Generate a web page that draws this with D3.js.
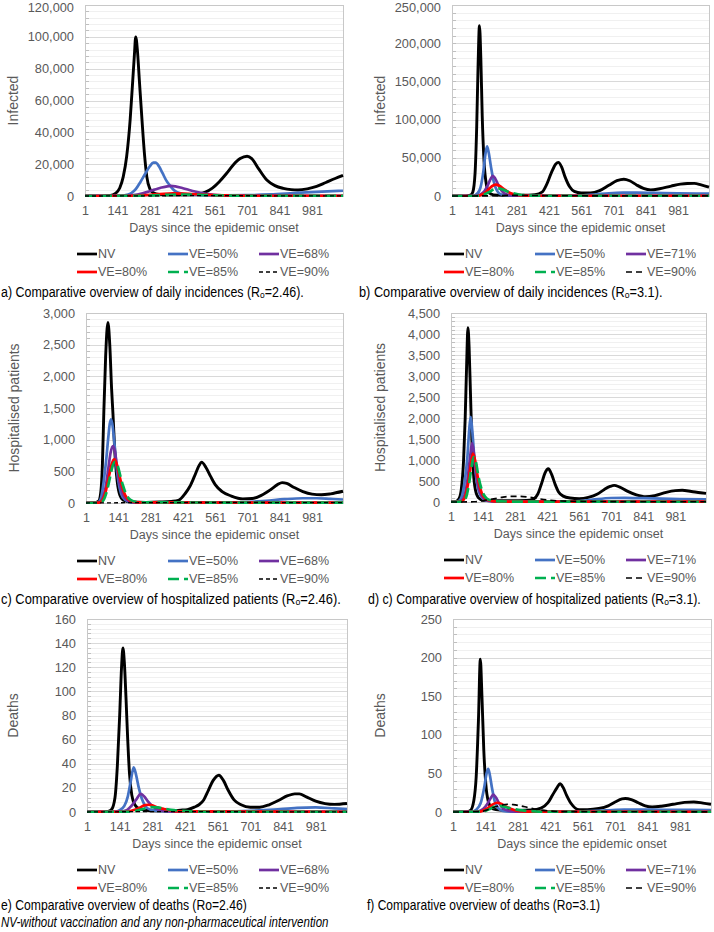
<!DOCTYPE html>
<html><head><meta charset="utf-8">
<script src="https://cdn.jsdelivr.net/npm/d3@7"></script>
<style>
body{margin:0;background:#fff}
svg{display:block}
text{font-family:"Liberation Sans",Arial,"DejaVu Sans",sans-serif}
</style>
</head><body><svg id="chart" width="714" height="932"></svg>
<script>
// ---------- shared labels ----------
const xTickDays = [1,141,281,421,561,701,841,981];
const namesR246 = ["NV","VE=50%","VE=68%","VE=80%","VE=85%","VE=90%"];
const namesR31  = ["NV","VE=50%","VE=71%","VE=80%","VE=85%","VE=90%"];
const seriesColors = ["#000000","#4472C4","#7030A0","#FF0000","#00B050","#000000"];

// ---------- a) Infected, Ro=2.46 ----------
const infA_NV = [[1,0],[81,0],[111,300],[131,1500],[151,5000],[166,12000],[181,25000],[196,48000],[206,70000],[214,88000],[220,100000],[227,92000],[236,72000],[247,48000],[258,26000],[268,12000],[281,4500],[296,2000],[321,1000],[361,800],[401,700],[451,800],[491,1300],[521,2500],[551,5000],[581,9000],[611,14000],[641,19500],[671,23500],[701,25000],[721,23500],[751,17000],[786,10000],[821,6500],[857,4800],[891,4000],[921,3800],[961,4500],[1001,6000],[1041,8500],[1081,11000],[1115,13000]];
const infA_50 = [[1,0],[141,0],[161,200],[181,700],[201,1800],[221,4500],[241,9000],[261,14000],[281,18700],[296,21000],[306,21000],[321,18500],[336,14300],[351,10000],[366,6900],[381,4200],[396,2600],[421,1400],[451,900],[501,600],[601,400],[701,500],[801,1000],[901,1800],[1001,2600],[1115,3300]];
const infA_68 = [[1,0],[181,100],[211,500],[241,1300],[271,2600],[301,4000],[331,5300],[356,6100],[371,6300],[391,6100],[421,5000],[451,3800],[481,2700],[511,1700],[541,1000],[571,500],[621,250],[701,150],[1115,100]];
const infA_80 = [[1,0],[201,100],[261,500],[301,1000],[341,1400],[381,1600],[421,1500],[461,1200],[501,900],[561,500],[641,200],[741,100],[1115,100]];
const infA_85 = [[1,0],[241,100],[301,400],[361,750],[411,900],[461,850],[521,600],[601,300],[701,150],[1115,100]];
const infA_90 = [[1,0],[301,100],[451,300],[601,200],[1115,100]];

// ---------- b) Infected, Ro=3.1 ----------
const infB_NV = [[1,0],[61,0],[81,1000],[91,5000],[101,30000],[108,90000],[114,170000],[120,223000],[126,180000],[132,105000],[140,45000],[150,15000],[162,4000],[181,1500],[221,1000],[281,1000],[331,1200],[361,1800],[391,5000],[411,15000],[431,30000],[451,42000],[462,44000],[476,38000],[491,25000],[511,12000],[531,6000],[561,4000],[601,4000],[641,7000],[681,14000],[716,20000],[746,22000],[771,20000],[801,14500],[831,10000],[862,8000],[901,9500],[951,13000],[991,15500],[1021,16400],[1051,16500],[1081,14500],[1115,11500]];
const infB_50 = [[1,0],[81,0],[101,1000],[121,8000],[136,30000],[146,55000],[153,65000],[160,57000],[170,38000],[181,20000],[196,7000],[211,2500],[231,1000],[281,500],[401,300],[501,400],[561,800],[621,2000],[681,3500],[741,4300],[801,4400],[881,4000],[981,3500],[1115,3200]];
const infB_71 = [[1,0],[101,0],[121,1500],[141,6000],[156,14000],[168,22000],[178,26500],[188,23000],[201,15000],[216,7000],[231,3000],[251,1000],[301,300],[1115,300]];
const infB_80 = [[1,0],[111,0],[131,2000],[151,6000],[171,12000],[189,15000],[206,13500],[226,9000],[246,5000],[266,2500],[291,1200],[321,500],[361,200],[1115,200]];
const infB_85 = [[1,0],[121,0],[141,2000],[161,5000],[181,8500],[196,10000],[216,9000],[241,6000],[266,3500],[291,2000],[321,900],[361,400],[421,200],[1115,100]];
const infB_90 = [[1,0],[151,200],[251,800],[351,700],[451,300],[1115,100]];

// ---------- c) Hospitalised, Ro=2.46 ----------
const hospC_NV = [[1,0],[41,5],[56,30],[66,200],[72,600],[78,1400],[86,2300],[96,2850],[104,2500],[112,1800],[118,1400],[126,800],[136,350],[148,120],[161,50],[201,15],[261,10],[321,15],[371,25],[401,40],[431,150],[451,260],[471,420],[491,590],[502,645],[521,560],[541,420],[561,290],[591,180],[631,110],[681,65],[721,70],[761,120],[801,210],[831,290],[851,322],[871,310],[901,250],[941,180],[981,140],[1021,130],[1061,145],[1115,185]];
const hospC_50 = [[1,0],[51,5],[66,80],[78,350],[88,660],[98,1050],[104,1250],[110,1320],[117,1200],[124,950],[131,660],[141,350],[153,150],[171,50],[201,10],[501,5],[601,8],[701,15],[781,35],[861,60],[941,75],[1001,75],[1061,65],[1115,55]];
const hospC_68 = [[1,0],[56,5],[71,60],[86,250],[98,550],[108,800],[118,900],[126,820],[136,560],[146,320],[161,130],[181,40],[211,10],[1115,5]];
const hospC_80 = [[1,0],[56,5],[71,40],[86,180],[101,430],[113,620],[123,690],[133,630],[143,480],[156,280],[171,120],[191,40],[221,10],[1115,5]];
const hospC_85 = [[1,0],[61,5],[76,40],[91,180],[106,420],[116,580],[127,650],[138,590],[149,440],[161,280],[176,130],[196,45],[231,10],[1115,5]];
const hospC_90 = [[1,0],[201,5],[601,8],[1115,5]];

// ---------- d) Hospitalised, Ro=3.1 ----------
const hospD_NV = [[1,0],[21,10],[36,80],[46,300],[56,1000],[63,2000],[69,3200],[75,4150],[80,3700],[86,2600],[92,1500],[99,700],[108,280],[121,100],[141,40],[201,30],[261,30],[331,35],[361,70],[381,200],[396,430],[411,680],[426,790],[441,650],[456,420],[471,240],[491,140],[521,95],[561,80],[601,110],[641,190],[671,300],[696,370],[714,395],[736,360],[771,260],[811,170],[851,125],[891,150],[941,230],[981,270],[1011,278],[1051,250],[1091,220],[1115,205]];
const hospD_50 = [[1,0],[31,10],[46,100],[61,500],[73,1100],[81,1750],[87,2030],[94,1700],[103,1050],[113,500],[126,200],[141,80],[161,25],[201,10],[501,10],[581,30],[641,70],[701,95],[761,100],[841,90],[921,80],[1001,70],[1115,65]];
const hospD_71 = [[1,0],[41,10],[56,100],[71,450],[83,1000],[93,1400],[101,1150],[111,650],[123,300],[141,100],[161,30],[201,10],[1115,10]];
const hospD_80 = [[1,0],[46,10],[61,100],[76,450],[88,900],[97,1150],[106,1000],[116,650],[128,330],[146,110],[171,30],[211,10],[1115,10]];
const hospD_85 = [[1,0],[51,10],[66,100],[81,480],[92,880],[100,1070],[110,950],[121,600],[136,280],[156,90],[181,30],[221,15],[281,10],[1115,5]];
const hospD_90 = [[1,0],[101,5],[141,30],[181,70],[221,110],[261,135],[301,135],[341,115],[381,80],[421,50],[481,25],[561,15],[701,10],[1115,5]];

// ---------- e) Deaths, Ro=2.46 ----------
const deathE_NV = [[1,0],[61,0],[91,0.5],[106,2],[121,12],[131,38],[141,80],[149,120],[155,136],[161,124],[168,95],[175,62],[183,32],[193,14],[206,6],[226,2.5],[251,1.5],[301,1],[361,1],[401,1.5],[431,2],[461,4],[481,6],[501,10],[521,18],[541,26],[566,30.5],[586,26],[606,18],[631,10],[661,6],[701,4],[741,4],[781,6],[821,9.5],[861,13.5],[891,15],[911,15],[941,12.5],[981,9],[1021,7],[1061,6.3],[1115,7]];
const deathE_50 = [[1,0],[121,0.3],[141,1.5],[161,5],[176,13],[188,25],[201,37],[211,31],[223,20],[236,11],[251,5],[271,2],[301,1],[401,0.5],[601,0.5],[701,1],[801,2],[901,3.5],[981,3.8],[1061,3],[1115,2.5]];
const deathE_68 = [[1,0],[141,0.2],[171,1.5],[191,5],[211,10],[231,15],[246,13],[261,9],[281,5],[301,2.5],[331,1],[371,0.5],[1115,0.3]];
const deathE_80 = [[1,0],[161,0.2],[191,1],[221,3],[246,5.5],[261,6],[281,5.5],[301,4],[331,2.5],[361,1.2],[401,0.5],[1115,0.2]];
const deathE_85 = [[1,0],[181,0.2],[211,1],[241,2.5],[271,4],[301,3.8],[331,2.8],[361,1.8],[401,1],[441,0.5],[501,0.2],[1115,0.1]];
const deathE_90 = [[1,0],[301,0.3],[601,0.2],[1115,0.1]];

// ---------- f) Deaths, Ro=3.1 ----------
const deathF_NV = [[1,0],[61,0.5],[76,2],[91,15],[101,45],[111,120],[119,198],[126,150],[134,80],[143,35],[153,14],[166,6],[186,3],[221,2],[281,2],[341,2.5],[381,5],[411,12],[431,22],[451,32],[463,36.5],[476,32],[491,22],[511,11],[546,3],[581,3],[631,4.5],[671,8],[701,13],[731,17],[745,17.5],[771,16],[801,12],[831,8],[861,6.5],[901,7.5],[951,10],[1001,12.5],[1041,13],[1081,11.5],[1115,10]];
const deathF_50 = [[1,0],[81,0.5],[101,3],[121,12],[136,32],[146,50],[153,56],[160,48],[170,30],[181,14],[196,5],[216,1.5],[251,0.5],[401,0.5],[561,1],[661,2],[741,3],[841,3],[941,2.8],[1115,2.5]];
const deathF_71 = [[1,0],[101,0.3],[121,2],[141,7],[156,14],[166,19],[175,22.5],[186,19],[199,12],[216,5],[236,2],[261,0.8],[301,0.3],[1115,0.2]];
const deathF_80 = [[1,0],[111,0.3],[131,2],[151,5],[171,9.5],[191,12],[211,10.5],[231,7],[256,3.5],[281,1.5],[321,0.5],[1115,0.2]];
const deathF_85 = [[1,0],[121,0.2],[141,1.5],[161,4],[181,7],[199,8],[221,7],[246,5],[271,3.5],[301,2],[331,1.2],[371,0.5],[421,0.2],[1115,0.1]];
const deathF_90 = [[1,0],[121,0.5],[151,3],[181,6.5],[211,9],[236,10],[261,9.5],[291,8],[321,6],[351,4],[381,2.5],[421,1.2],[481,0.5],[1115,0.2]];

const xDomain = [1,1115];

// ---------- panel layout ----------
const panels = [
 {left:85,right:343,top:5,bottom:196,yMax:120000,yStep:20000,yTitle:"Infected",yTitleX:13,legendX:77,names:namesR246,
  data:[infA_NV,infA_50,infA_68,infA_80,infA_85,infA_90],dash90:"4,3",w90:1.3,
  cap:"a) Comparative overview of daily incidences (R\u2092=2.46).",capX:1,capW:303,capY:292},
 {left:452,right:709,top:5,bottom:196,yMax:250000,yStep:50000,yTitle:"Infected",yTitleX:380,legendX:444,names:namesR31,
  data:[infB_NV,infB_50,infB_71,infB_80,infB_85,infB_90],dash90:"6,4",w90:1.6,
  cap:"b) Comparative overview of daily incidences (R\u2092=3.1).",capX:359,capW:304,capY:292},
 {left:86,right:343,top:313,bottom:503,yMax:3000,yStep:500,yTitle:"Hospitalised patients",yTitleX:14,legendX:77,names:namesR246,
  data:[hospC_NV,hospC_50,hospC_68,hospC_80,hospC_85,hospC_90],dash90:"4,3",w90:1.3,
  cap:"c) Comparative overview of hospitalized patients (R\u2092=2.46).",capX:1,capW:340,capY:599},
 {left:451,right:706,top:313,bottom:502,yMax:4500,yStep:500,yTitle:"Hospitalised patients",yTitleX:380,legendX:444,names:namesR31,
  data:[hospD_NV,hospD_50,hospD_71,hospD_80,hospD_85,hospD_90],dash90:"6,4",w90:1.6,
  cap:"d) c) Comparative overview of hospitalized patients (R\u2092=3.1).",capX:368,capW:333,capY:599},
 {left:87,right:347,top:619,bottom:812,yMax:160,yStep:20,yTitle:"Deaths",yTitleX:13,legendX:77,names:namesR246,
  data:[deathE_NV,deathE_50,deathE_68,deathE_80,deathE_85,deathE_90],dash90:"4,3",w90:1.3,
  cap:"e) Comparative overview of deaths (Ro=2.46)",capX:1,capW:246,capY:905},
 {left:453,right:711,top:619,bottom:812,yMax:250,yStep:50,yTitle:"Deaths",yTitleX:380,legendX:444,names:namesR31,
  data:[deathF_NV,deathF_50,deathF_71,deathF_80,deathF_85,deathF_90],dash90:"6,4",w90:1.6,
  cap:"f) Comparative overview of deaths (Ro=3.1)",capX:367,capW:233,capY:905}
];

const svg = d3.select("#chart");
const gray = "#595959";

// text squeezed horizontally to a measured width (condensed caption font)
function squeezedText(str, x0, y0, width, italic){
  const t = svg.append("text").attr("x",0).attr("y",0).attr("dy","0.35em")
    .attr("fill","#000").style("font-size","14px").text(str);
  if(italic) t.style("font-style","italic");
  const natural = t.node().getComputedTextLength();
  const k = Math.min(1, width/natural);
  t.attr("transform",`translate(${x0},${y0}) scale(${k},1)`);
  return t;
}

panels.forEach((p,pi)=>{
  const x = d3.scaleLinear().domain(xDomain).range([p.left,p.right]);
  const y = d3.scaleLinear().domain([0,p.yMax]).range([p.bottom,p.top]);
  const g = svg.append("g");
  const minorStep = p.yStep/5;
  const minorVals = d3.range(0,p.yMax+minorStep/2,minorStep);
  const majorVals = d3.range(0,p.yMax+p.yStep/2,p.yStep);

  g.append("g").selectAll("line").data(minorVals).join("line")
    .attr("x1",p.left).attr("x2",p.right)
    .attr("y1",d=>Math.round(y(d))+0.5).attr("y2",d=>Math.round(y(d))+0.5)
    .attr("stroke","#f0f0f0").attr("stroke-width",1);
  g.append("g").selectAll("line").data(majorVals).join("line")
    .attr("x1",p.left).attr("x2",p.right)
    .attr("y1",d=>Math.round(y(d))+0.5).attr("y2",d=>Math.round(y(d))+0.5)
    .attr("stroke","#d9d9d9").attr("stroke-width",1);
  g.append("g").selectAll("line").data(minorVals).join("line")
    .attr("x1",p.left).attr("x2",p.left+4)
    .attr("y1",d=>Math.round(y(d))+0.5).attr("y2",d=>Math.round(y(d))+0.5)
    .attr("stroke","#bfbfbf").attr("stroke-width",1);
  g.append("rect").attr("x",p.left+0.5).attr("y",p.top+0.5)
    .attr("width",p.right-p.left).attr("height",p.bottom-p.top)
    .attr("fill","none").attr("stroke","#c8c8c8");

  const ya = g.append("g").attr("transform",`translate(${p.left},0)`)
    .call(d3.axisLeft(y).tickValues(majorVals).tickSize(0).tickPadding(11).tickFormat(d3.format(",")));
  ya.select(".domain").remove();
  ya.selectAll("text").attr("fill",gray).style("font-size","12.8px").style("font-family","'Liberation Sans',Arial,sans-serif")
    .attr("dy", d => d===p.yMax && p.top<10 ? "0.5em" : "0.32em");

  const xa = g.append("g").attr("transform",`translate(0,${p.bottom})`)
    .call(d3.axisBottom(x).tickValues(xTickDays).tickSize(0).tickPadding(10).tickFormat(d3.format("d")));
  xa.select(".domain").remove();
  xa.selectAll("text").attr("fill",gray).style("font-size","12.5px").style("font-family","'Liberation Sans',Arial,sans-serif");

  g.append("text").attr("x",(p.left+p.right)/2).attr("y",p.bottom+32).attr("dy","0.35em")
    .attr("text-anchor","middle").attr("fill",gray).style("font-size","12.5px")
    .text("Days since the epidemic onset");
  g.append("text").attr("transform",`translate(${p.yTitleX},${(p.top+p.bottom)/2}) rotate(-90)`)
    .attr("dy","0.35em").attr("text-anchor","middle").attr("fill",gray).style("font-size","14px")
    .text(p.yTitle);

  const cid = "clip"+pi;
  svg.append("clipPath").attr("id",cid).append("rect")
    .attr("x",p.left).attr("y",p.top-2).attr("width",p.right-p.left+1).attr("height",p.bottom-p.top+3);

  const line = d3.line().x(d=>x(d[0])).y(d=>y(d[1])).curve(d3.curveMonotoneX);
  const lg = g.append("g").attr("clip-path",`url(#${cid})`);
  p.data.forEach((s,si)=>{
    const path = lg.append("path").datum(s).attr("d",line).attr("fill","none")
      .attr("stroke",seriesColors[si]).attr("stroke-linejoin","round");
    if(si===5){ path.attr("stroke-width",p.w90).attr("stroke-dasharray",p.dash90); }
    else if(si===4){ path.attr("stroke-width",2.7).attr("stroke-dasharray","11,5"); }
    else { path.attr("stroke-width",si===0?2.9:2.7); }
  });

  const colW = 91;
  p.names.forEach((nm,i)=>{
    const row = Math.floor(i/3), col = i%3;
    const lx = p.legendX + col*colW;
    const ly = p.bottom + 58 + row*18;
    const ln = g.append("line").attr("x1",lx).attr("x2",lx+20).attr("y1",ly).attr("y2",ly)
      .attr("stroke",seriesColors[i]);
    if(i===5){ ln.attr("stroke-width",p.w90).attr("stroke-dasharray",p.dash90); }
    else if(i===4){ ln.attr("stroke-width",2.7).attr("stroke-dasharray","11,5"); }
    else { ln.attr("stroke-width",2.7); }
    g.append("text").attr("x",lx+21).attr("y",ly).attr("dy","0.35em").attr("fill",gray)
      .style("font-size","12.5px").text(nm);
  });

  squeezedText(p.cap, p.capX, p.capY, p.capW, false);
});

squeezedText("NV-without vaccination and any non-pharmaceutical intervention", 1, 922, 328, true);
</script>
</body></html>
